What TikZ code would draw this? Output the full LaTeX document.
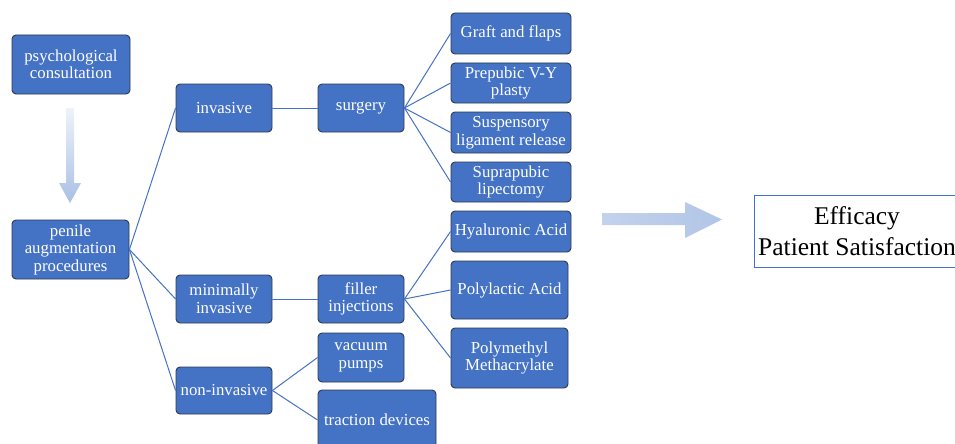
\documentclass[tikz,border=0pt]{standalone}
\usepackage{fontspec}
\setmainfont{Liberation Serif}
\definecolor{boxblue}{HTML}{4472C4}
\definecolor{boxedge}{HTML}{2E3A4F}
\definecolor{arrlight}{HTML}{EEF3FA}
\definecolor{arrdark}{HTML}{A9BFE4}
\definecolor{arrmid}{HTML}{C3D2EC}
\begin{document}
\begin{tikzpicture}[x=1pt,y=-1pt,
  bx/.style={draw=boxedge, line width=0.9pt, fill=boxblue, rounded corners=4pt,
    text=white, align=center, inner sep=0pt, anchor=center,
    font=\fontsize{16.8}{17.5}\selectfont},
  conn/.style={draw=boxblue, line width=1pt}]
\useasboundingbox (0,0) rectangle (955,444);
\clip (0,0) rectangle (955,444);
% nodes
\node[bx, minimum width=118pt, minimum height=59pt] (psy) at (71,64.5) {psychological\\consultation};
\node[bx, minimum width=117pt, minimum height=59pt] (pen) at (70.5,249.5) {penile\\augmentation\\procedures};
\node[bx, minimum width=96pt, minimum height=48pt] (inv) at (224,108) {invasive};
\node[bx, minimum width=86pt, minimum height=48pt] (sur) at (361,108) {surgery};
\node[bx, minimum width=96pt, minimum height=48pt] (min) at (224,299) {minimally\\invasive};
\node[bx, minimum width=86pt, minimum height=48pt] (fil) at (361,299) {filler\\injections};
\node[bx, minimum width=96pt, minimum height=47pt] (non) at (224,390.5) {non-invasive};
\node[bx, minimum width=86pt, minimum height=49pt] (vac) at (361,357.5) {vacuum\\pumps};
\node[bx, minimum width=118pt, minimum height=60pt] (tra) at (377,420) {traction devices};
\node[bx, minimum width=120pt, minimum height=41pt] (gra) at (511,33.5) {Graft and flaps};
\node[bx, minimum width=120pt, minimum height=40pt] (pre) at (511,83) {Prepubic V-Y\\plasty};
\node[bx, minimum width=120pt, minimum height=41pt] (sus) at (511,132.5) {Suspensory\\ligament release};
\node[bx, minimum width=120pt, minimum height=40pt] (sup) at (511,182) {Suprapubic\\lipectomy};
\node[bx, minimum width=120pt, minimum height=41pt] (hya) at (511,231.5) {Hyaluronic Acid};
\node[bx, minimum width=117pt, minimum height=58pt] (pla) at (509.5,290) {Polylactic Acid};
\node[bx, minimum width=117pt, minimum height=60pt] (pmm) at (509.5,358) {Polymethyl\\Methacrylate};
\node[draw=boxblue, line width=0.8pt, fill=white, align=center, inner sep=0pt,
  minimum width=205pt, minimum height=72pt, font=\fontsize{25.5}{31}\selectfont]
  (eff) at (857,231) {Efficacy\\Patient Satisfaction};
% connectors
\draw[conn] (pen.east) -- (inv.west);
\draw[conn] (pen.east) -- (min.west);
\draw[conn] (pen.east) -- (non.west);
\draw[conn] (inv.east) -- (sur.west);
\draw[conn] (min.east) -- (fil.west);
\draw[conn] (sur.east) -- (gra.west);
\draw[conn] (sur.east) -- (pre.west);
\draw[conn] (sur.east) -- (sus.west);
\draw[conn] (sur.east) -- (sup.west);
\draw[conn] (fil.east) -- (hya.west);
\draw[conn] (fil.east) -- (pla.west);
\draw[conn] (fil.east) -- (pmm.west);
\draw[conn] (non.east) -- (vac.west);
\draw[conn] (non.east) -- (tra.west);
% block arrows
\shade[top color=arrlight, bottom color=arrdark]
  (66,108) -- (74,108) -- (74,183) -- (81,183) -- (70,203) -- (59,183) -- (66,183) -- cycle;
\shade[left color=arrmid, right color=arrdark!90]
  (602,213) -- (685,213) -- (685,202) -- (722,219.5) -- (685,238) -- (685,225) -- (602,225) -- cycle;
\end{tikzpicture}
\end{document}
